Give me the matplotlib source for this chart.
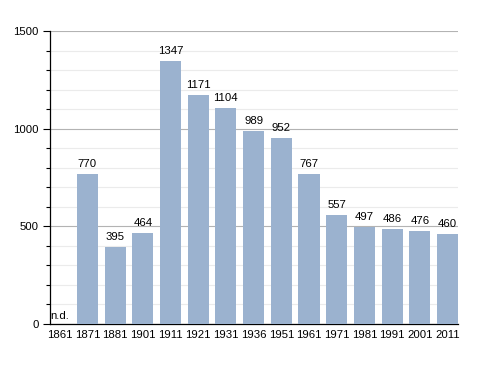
import numpy as np
import matplotlib
matplotlib.use('Agg')
import matplotlib.pyplot as plt
from matplotlib.ticker import MultipleLocator

years = ['1861', '1871', '1881', '1901', '1911', '1921', '1931', '1936',
         '1951', '1961', '1971', '1981', '1991', '2001', '2011']
population = [0, 770, 395, 464, 1347, 1171, 1104, 989,
              952, 767, 557, 497, 486, 476, 460]
labels = ['n.d.', '770', '395', '464', '1347', '1171', '1104', '989',
          '952', '767', '557', '497', '486', '476', '460']

plt.rcParams['font.family'] = ['Liberation Sans', 'DejaVu Sans']

fig = plt.figure(figsize=(4.88, 3.73), dpi=100)
ax = fig.add_axes([50 / 488, 49 / 373, 408 / 488, 293 / 373])

x = np.arange(len(years))
ax.bar(x, population, width=0.76, color='#9bb2cf', zorder=3)

fs = 8.2
for i, (v, t) in enumerate(zip(population, labels)):
    if v == 0:
        ax.text(i - 0.33, 15, t, ha='left', va='bottom', fontsize=fs, zorder=4)
    else:
        ax.text(i, v + 25, t, ha='center', va='bottom', fontsize=fs, zorder=4)

ax.set_xlim(-0.35, 14.38)
ax.set_ylim(0, 1500)
ax.set_xticks(x)
ax.set_xticklabels(years, fontsize=fs)
ax.tick_params(axis='x', length=0, pad=4)
ax.yaxis.set_major_locator(MultipleLocator(500))
ax.yaxis.set_minor_locator(MultipleLocator(100))
ax.tick_params(axis='y', which='major', length=5, width=0.8, labelsize=fs, pad=3)
ax.tick_params(axis='y', which='minor', length=3, width=0.8)

ax.grid(axis='y', which='major', color='#b3b3b3', linewidth=0.8, zorder=0)
ax.grid(axis='y', which='minor', color='#ebebeb', linewidth=0.8, zorder=0)

for s in ['top', 'right']:
    ax.spines[s].set_visible(False)
ax.spines['left'].set_linewidth(0.9)
ax.spines['bottom'].set_linewidth(0.9)

fig.savefig('out.png', dpi=100)
